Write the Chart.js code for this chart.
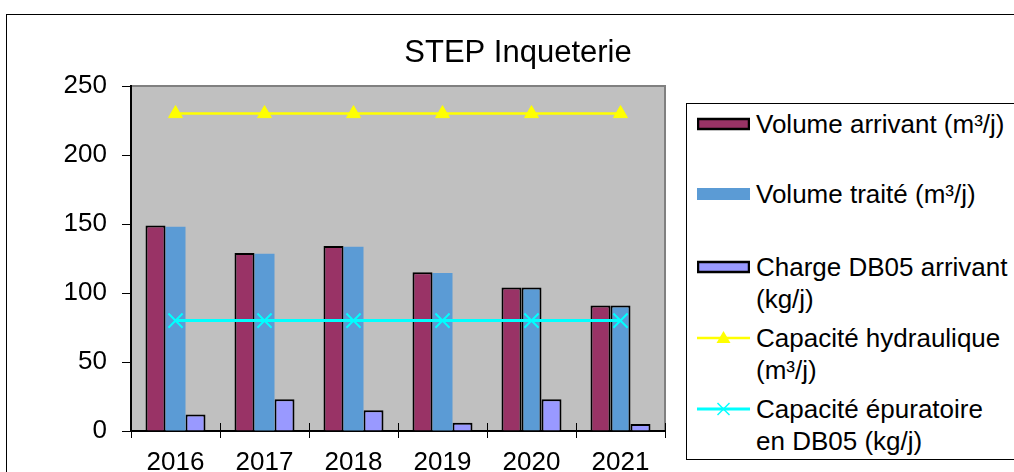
<!DOCTYPE html>
<html>
<head>
<meta charset="utf-8">
<script src="https://cdn.jsdelivr.net/npm/chart.js@4/dist/chart.umd.min.js"></script>
<style>
  html, body { margin: 0; padding: 0; background: #fff; overflow: hidden; }
  #wrap { position: relative; width: 1014px; height: 472px; overflow: hidden; font-family: "Liberation Sans", Arial, sans-serif; color: #000; }
  #frame { position: absolute; left: 6px; top: 14px; width: 1200px; height: 700px; border: 1px solid #000; box-sizing: border-box; }
  #c { position: absolute; left: 0; top: 0; }
  #legendBox { position: absolute; left: 686px; top: 103px; width: 500px; height: 357px; border: 1px solid #000; box-sizing: border-box; background: #fff; }
  .sw { position: absolute; left: 697px; width: 53px; height: 20px; }
  .lt { position: absolute; left: 756px; font-size: 26px; line-height: 32px; white-space: pre; }
</style>
</head>
<body>
<div id="wrap">
  <div id="frame"></div>
  <canvas id="c" width="1014" height="472"></canvas>
  <div id="legendBox"></div>
  <div id="legendItems"></div>
</div>
<script>
const titleText = 'STEP Inqueterie';
const categories = ['2016', '2017', '2018', '2019', '2020', '2021'];
const volumeArrivant = [149, 129, 134, 115, 104, 91];
const volumeTraite = [148, 128.5, 133.5, 114.5, 104, 91];
const chargeDBO5 = [12, 23, 15, 6, 23, 5];
const capaciteHydraulique = [230, 230, 230, 230, 230, 230];
const capaciteEpuratoire = [80, 80, 80, 80, 80, 80];
const yTickValues = [0, 50, 100, 150, 200, 250];
const seriesLabels = [
  'Volume arrivant (m³/j)',
  'Volume traité (m³/j)',
  'Charge DB05 arrivant\n(kg/j)',
  'Capacité hydraulique\n(m³/j)',
  'Capacité épuratoire\nen DB05 (kg/j)'
];

const FONT = '"Liberation Sans", Arial, sans-serif';

const plotBg = {
  id: 'plotBg',
  beforeDraw(chart) {
    const { ctx, chartArea: a } = chart;
    ctx.save();
    ctx.fillStyle = '#C0C0C0';
    ctx.fillRect(a.left, a.top, a.right - a.left, a.bottom - a.top);
    ctx.strokeStyle = '#808080';
    ctx.lineWidth = 2;
    ctx.beginPath();
    ctx.moveTo(a.left, a.top);
    ctx.lineTo(a.right, a.top);
    ctx.lineTo(a.right, a.bottom);
    ctx.stroke();
    ctx.restore();
  },
  afterDraw(chart) {
    const { ctx, chartArea: a } = chart;
    const xs = chart.scales.x;
    ctx.save();
    ctx.strokeStyle = '#000';
    ctx.lineWidth = 1;
    for (let i = 0; i <= categories.length; i++) {
      const x = Math.round(xs.getPixelForValue(i - 0.5)) + 0.5;
      ctx.beginPath();
      ctx.moveTo(x, a.bottom);
      ctx.lineTo(x, a.bottom - 8);
      ctx.stroke();
    }
    ctx.fillStyle = '#000';
    ctx.font = '31px ' + FONT;
    ctx.textAlign = 'center';
    ctx.textBaseline = 'alphabetic';
    ctx.fillText(titleText, 518, 62);
    ctx.restore();
  }
};

const chart = new Chart(document.getElementById('c'), {
  type: 'bar',
  data: {
    labels: categories,
    datasets: [
      { label: seriesLabels[0], data: volumeArrivant, backgroundColor: '#993366', borderColor: '#000', borderWidth: 2, order: 2 },
      { label: seriesLabels[1], data: volumeTraite, backgroundColor: '#5B9BD5', borderColor: '#000', borderWidth: [0, 0, 0, 0, 2, 2], order: 2 },
      { label: seriesLabels[2], data: chargeDBO5, backgroundColor: '#9999FF', borderColor: '#000', borderWidth: 2, order: 2 },
      { type: 'line', label: seriesLabels[3], data: capaciteHydraulique, borderColor: '#FFFF00', backgroundColor: '#FFFF00', borderWidth: 2.5,
        pointStyle: 'triangle', pointRadius: 8, pointBorderWidth: 1, pointBackgroundColor: '#FFFF00', pointBorderColor: '#FFFF00', order: 1 },
      { type: 'line', label: seriesLabels[4], data: capaciteEpuratoire, borderColor: '#00FFFF', backgroundColor: '#00FFFF', borderWidth: 3,
        pointStyle: 'crossRot', pointRadius: 10, pointBorderWidth: 2, pointBorderColor: '#00FFFF', order: 1 }
    ]
  },
  options: {
    responsive: false,
    devicePixelRatio: 1,
    animation: false,
    layout: { padding: { top: 86, right: 349, bottom: 0, left: 0 } },
    datasets: { bar: { categoryPercentage: 0.674, barPercentage: 1.0 } },
    plugins: { legend: { display: false }, title: { display: false }, tooltip: { enabled: false } },
    scales: {
      x: {
        offset: true,
        grid: { offset: true, drawOnChartArea: false, drawTicks: true, tickLength: 7, color: '#000', lineWidth: 1 },
        border: { display: true, color: '#000', width: 2 },
        ticks: { color: '#000', font: { family: FONT, size: 26 }, padding: 9, maxRotation: 0, autoSkip: false },
        afterFit(s) { s.height = 41; }
      },
      y: {
        min: 0, max: 250,
        afterBuildTicks(s) { s.ticks = yTickValues.map(v => ({ value: v })); },
        grid: { drawOnChartArea: false, drawTicks: true, tickLength: 9, color: '#000', lineWidth: 1 },
        border: { display: true, color: '#000', width: 2 },
        ticks: { color: '#000', font: { family: FONT, size: 26 }, padding: 15 },
        afterFit(s) { s.width = 131; }
      }
    }
  },
  plugins: [plotBg]
});

// HTML legend built from the chart's datasets
const legendCenters = [124, 194, 267, 338, 409];
const items = document.getElementById('legendItems');
chart.data.datasets.forEach((ds, i) => {
  const cy = legendCenters[i];
  const sw = document.createElementNS('http://www.w3.org/2000/svg', 'svg');
  sw.setAttribute('class', 'sw');
  sw.setAttribute('width', '53');
  sw.setAttribute('height', '20');
  sw.style.top = (cy - 10) + 'px';
  let inner = '';
  if (ds.type === 'line') {
    inner += `<line x1="0" y1="10" x2="53" y2="10" stroke="${ds.borderColor}" stroke-width="${ds.borderWidth}"/>`;
    if (ds.pointStyle === 'triangle') {
      inner += `<polygon points="26.5,3 33.5,15 19.5,15" fill="${ds.backgroundColor}"/>`;
    } else {
      inner += `<line x1="20.5" y1="4" x2="32.5" y2="16" stroke="${ds.borderColor}" stroke-width="1.5"/>`;
      inner += `<line x1="20.5" y1="16" x2="32.5" y2="4" stroke="${ds.borderColor}" stroke-width="1.5"/>`;
    }
  } else {
    const bw = Array.isArray(ds.borderWidth) ? 0 : ds.borderWidth;
    if (bw) {
      inner += `<rect x="1" y="5" width="51" height="10" fill="${ds.backgroundColor}" stroke="#000" stroke-width="2.5"/>`;
    } else {
      inner += `<rect x="0" y="4" width="53" height="12" fill="${ds.backgroundColor}"/>`;
    }
  }
  sw.innerHTML = inner;
  items.appendChild(sw);
  const t = document.createElement('div');
  t.className = 'lt';
  t.style.top = (cy - 16) + 'px';
  t.textContent = ds.label;
  items.appendChild(t);
});
</script>
</body>
</html>
